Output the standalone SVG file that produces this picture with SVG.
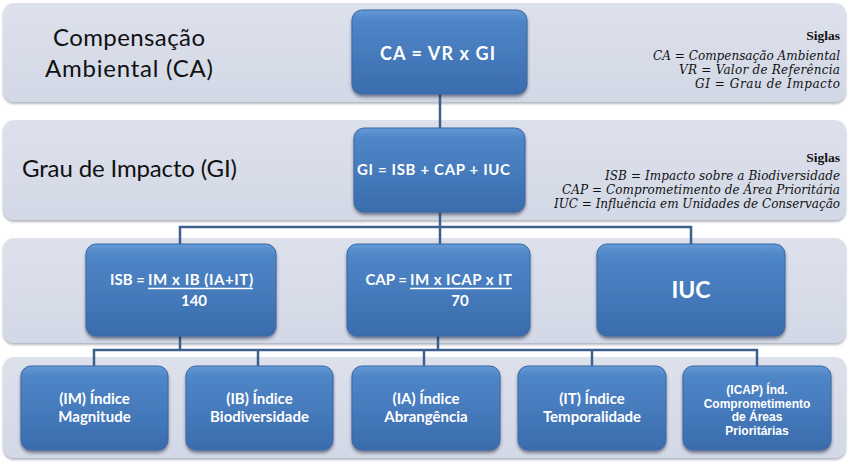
<svg xmlns="http://www.w3.org/2000/svg" width="850" height="462" viewBox="0 0 850 462">
<defs>
<linearGradient id="boxg" x1="0" y1="0" x2="0" y2="1">
<stop offset="0" stop-color="#6499d6"/>
<stop offset="0.12" stop-color="#4f86c8"/>
<stop offset="1" stop-color="#3a6cad"/>
</linearGradient>
<linearGradient id="bandg" x1="0" y1="0" x2="0" y2="1">
<stop offset="0" stop-color="#dde1ec"/>
<stop offset="1" stop-color="#d3d8e6"/>
</linearGradient>
<filter id="bsh" x="-5%" y="-10%" width="110%" height="130%">
<feDropShadow dx="0" dy="2.5" stdDeviation="1.8" flood-color="#1a2a40" flood-opacity="0.55"/>
</filter>
<filter id="bandsh" x="-2%" y="-5%" width="104%" height="115%">
<feDropShadow dx="0" dy="2" stdDeviation="1.2" flood-color="#808896" flood-opacity="0.6"/>
</filter>
</defs>
<style>
.band{fill:url(#bandg);filter:url(#bandsh)}
.box{fill:url(#boxg);stroke:#3a68a3;stroke-width:1;filter:url(#bsh)}
.lbl{font-family:Lato,"Liberation Sans",sans-serif;fill:#111}
.bt{font-family:Lato,"Liberation Sans",sans-serif;font-weight:bold;fill:#fff}
.bs{font-family:"Liberation Sans",Arial,sans-serif;font-weight:bold;fill:#fff;font-size:12px;text-anchor:middle}
.sig{font-family:"DejaVu Serif","Liberation Serif",serif;font-style:italic;font-size:12px;fill:#111;text-anchor:end}
.sigh{font-family:"Liberation Serif",serif;font-weight:bold;font-size:13.5px;fill:#111;text-anchor:end}
.con{fill:none;stroke:#3c5f8d;stroke-width:2.5}
.ul{stroke:#fff;stroke-width:1.5}
</style>

<g id="bands">
<rect class="band" x="3" y="3" width="843" height="99" rx="11"/>
<rect class="band" x="3" y="120" width="843" height="100" rx="11"/>
<rect class="band" x="3" y="238" width="843" height="105" rx="11"/>
<rect class="band" x="3" y="357" width="843" height="101" rx="11"/>
</g>

<g id="row-labels">
<text class="lbl" x="129" y="46" font-size="24" text-anchor="middle" textLength="152">Compensação</text>
<text class="lbl" x="129" y="77" font-size="24" text-anchor="middle" textLength="168">Ambiental (CA)</text>
<text class="lbl" x="22" y="177" font-size="24" textLength="215">Grau de Impacto (GI)</text>
</g>

<g id="siglas1">
<text class="sigh" x="840" y="40">Siglas</text>
<text class="sig" x="840" y="60" textLength="187">CA = Compensação Ambiental</text>
<text class="sig" x="840" y="74" textLength="161">VR = Valor de Referência</text>
<text class="sig" x="840" y="88" textLength="145">GI = Grau de Impacto</text>
</g>
<g id="siglas2">
<text class="sigh" x="840" y="162">Siglas</text>
<text class="sig" x="840" y="180" textLength="235">ISB = Impacto sobre a Biodiversidade</text>
<text class="sig" x="840" y="194" textLength="278">CAP = Comprometimento de Área  Prioritária</text>
<text class="sig" x="840" y="208" textLength="286">IUC = Influência em Unidades de Conservação</text>
</g>

<g id="connectors">
<path class="con" d="M440,94 V128"/>
<path class="con" d="M440,212 V227 M180,244 V227 H691 V244 M440,227 V244"/>
<path class="con" d="M180,336 V350 M438,336 V350 M94,366 V350 H757 V366 M258,350 V366 M424,350 V366 M592,350 V366"/>
</g>

<g id="node-ca">
<rect class="box" x="352" y="10" width="175" height="84" rx="10"/>
<text class="bt" x="437.5" y="60" font-size="18" text-anchor="middle" textLength="115">CA = VR x GI</text>
</g>
<g id="node-gi">
<rect class="box" x="354" y="128" width="171" height="84" rx="10"/>
<text class="bt" x="433.5" y="175" font-size="15" text-anchor="middle" textLength="153">GI = ISB + CAP + IUC</text>
</g>
<g id="node-isb">
<rect class="box" x="86" y="244" width="190" height="92" rx="10"/>
<text class="bt" x="145" y="285" font-size="15" text-anchor="end">ISB =</text>
<text class="bt" x="148" y="285" font-size="15" textLength="105">IM x IB (IA+IT)</text>
<line class="ul" x1="148" y1="288.5" x2="253" y2="288.5"/>
<text class="bt" x="194" y="306" font-size="15" text-anchor="middle">140</text>
</g>
<g id="node-cap">
<rect class="box" x="347" y="244" width="183" height="92" rx="10"/>
<text class="bt" x="407" y="285" font-size="15" text-anchor="end">CAP =</text>
<text class="bt" x="410" y="285" font-size="15" textLength="102">IM x ICAP x IT</text>
<line class="ul" x1="410" y1="288.5" x2="512" y2="288.5"/>
<text class="bt" x="460" y="306" font-size="15" text-anchor="middle">70</text>
</g>
<g id="node-iuc">
<rect class="box" x="597" y="244" width="188" height="92" rx="10"/>
<text class="bt" x="691" y="298" font-size="23" text-anchor="middle">IUC</text>
</g>

<g id="node-im">
<rect class="box" x="21" y="366" width="147" height="84" rx="10"/>
<text class="bt" x="94.5" y="404" font-size="15" text-anchor="middle">(IM) Índice</text>
<text class="bt" x="94.5" y="422" font-size="15" text-anchor="middle">Magnitude</text>
</g>
<g id="node-ib">
<rect class="box" x="186" y="366" width="147" height="84" rx="10"/>
<text class="bt" x="259.5" y="404" font-size="15" text-anchor="middle">(IB) Índice</text>
<text class="bt" x="259.5" y="422" font-size="15" text-anchor="middle">Biodiversidade</text>
</g>
<g id="node-ia">
<rect class="box" x="352" y="366" width="148" height="84" rx="10"/>
<text class="bt" x="426" y="404" font-size="15" text-anchor="middle">(IA) Índice</text>
<text class="bt" x="426" y="422" font-size="15" text-anchor="middle">Abrangência</text>
</g>
<g id="node-it">
<rect class="box" x="518" y="366" width="148" height="84" rx="10"/>
<text class="bt" x="592" y="404" font-size="15" text-anchor="middle">(IT) Índice</text>
<text class="bt" x="592" y="422" font-size="15" text-anchor="middle">Temporalidade</text>
</g>
<g id="node-icap">
<rect class="box" x="683" y="366" width="148" height="84" rx="10"/>
<text class="bs" x="757" y="394">(ICAP) Índ.</text>
<text class="bs" x="757" y="407.5">Comprometimento</text>
<text class="bs" x="757" y="421">de Áreas</text>
<text class="bs" x="757" y="434.5">Prioritárias</text>
</g>
</svg>
